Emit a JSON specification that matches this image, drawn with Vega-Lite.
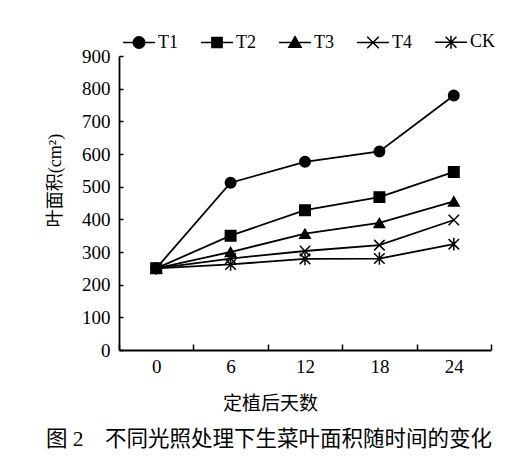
{
  "$schema": "https://vega.github.io/schema/vega-lite/v6.json",
  "width": 372,
  "height": 294,
  "autosize": "none",
  "padding": {"left": 119, "top": 56, "right": 36, "bottom": 111},
  "background": "white",
  "config": {
    "font": "Liberation Serif, Noto Sans CJK SC",
    "view": {"stroke": null},
    "axis": {
      "grid": false,
      "domainColor": "black",
      "domainWidth": 1.8,
      "tickColor": "black",
      "tickWidth": 1.5,
      "labelColor": "black",
      "titleColor": "black",
      "labelFont": "Liberation Serif, Noto Sans CJK SC",
      "titleFont": "Liberation Serif, Noto Sans CJK SC",
      "labelFontSize": 19,
      "titleFontSize": 19,
      "titleFontWeight": "normal"
    }
  },
  "title": {
    "text": "图 2　不同光照处理下生菜叶面积随时间的变化",
    "orient": "bottom",
    "anchor": "middle",
    "frame": "group",
    "dx": -36,
    "offset": 16,
    "fontSize": 21.5,
    "fontWeight": "normal",
    "color": "black",
    "font": "Liberation Serif, Noto Sans CJK SC"
  },
  "data": {
    "values": [
      {"series": "T1", "day": 0, "area": 250},
      {"series": "T1", "day": 6, "area": 512},
      {"series": "T1", "day": 12, "area": 576},
      {"series": "T1", "day": 18, "area": 608},
      {"series": "T1", "day": 24, "area": 779},
      {"series": "T2", "day": 0, "area": 250},
      {"series": "T2", "day": 6, "area": 350},
      {"series": "T2", "day": 12, "area": 428},
      {"series": "T2", "day": 18, "area": 468},
      {"series": "T2", "day": 24, "area": 545},
      {"series": "T3", "day": 0, "area": 250},
      {"series": "T3", "day": 6, "area": 300},
      {"series": "T3", "day": 12, "area": 356},
      {"series": "T3", "day": 18, "area": 389},
      {"series": "T3", "day": 24, "area": 455},
      {"series": "T4", "day": 0, "area": 250},
      {"series": "T4", "day": 6, "area": 280},
      {"series": "T4", "day": 12, "area": 303},
      {"series": "T4", "day": 18, "area": 321},
      {"series": "T4", "day": 24, "area": 398},
      {"series": "CK", "day": 0, "area": 250},
      {"series": "CK", "day": 6, "area": 262},
      {"series": "CK", "day": 12, "area": 279},
      {"series": "CK", "day": 18, "area": 280},
      {"series": "CK", "day": 24, "area": 324}
    ]
  },
  "encoding": {
    "x": {
      "field": "day",
      "type": "ordinal",
      "bandPosition": 0.5,
      "scale": {"type": "band", "paddingInner": 0, "paddingOuter": 0},
      "axis": {
        "title": "定植后天数",
        "labelAngle": 0,
        "tickBand": "extent",
        "tickSize": -6,
        "labelPadding": 13,
        "titleX": 151,
        "titleY": 53,
        "titleBaseline": "middle",
        "titleAlign": "center"
      }
    },
    "y": {
      "field": "area",
      "type": "quantitative",
      "scale": {"domain": [0, 900], "nice": false},
      "axis": {
        "title": "叶面积(cm²)",
        "values": [0, 100, 200, 300, 400, 500, 600, 700, 800, 900],
        "tickSize": -4,
        "labelPadding": 13,
        "titleX": -64,
        "titleY": 124,
        "titleAngle": 270,
        "titleBaseline": "middle",
        "titleAlign": "center",
        "titleFontSize": 18
      }
    }
  },
  "resolve": {"scale": {"shape": "independent"}, "legend": {"shape": "independent"}},
  "layer": [
    {
      "mark": {"type": "line", "color": "black", "strokeWidth": 1.8},
      "encoding": {"detail": {"field": "series", "type": "nominal"}}
    },
    {
      "mark": {"type": "point", "filled": true, "color": "black", "stroke": "black", "strokeWidth": 1.5, "opacity": 1, "size": 110},
      "encoding": {
        "shape": {
          "field": "series",
          "type": "nominal",
          "legend": null,
          "scale": {
            "domain": ["T1", "T2", "T3", "T4", "CK"],
            "range": ["circle", "square", "triangle-up", "M-1,-1L1,1M1,-1L-1,1", "M-1,-1L1,1M1,-1L-1,1M0,-1.2L0,1.2"]
          }
        }
      }
    },
    {
      "transform": [{"filter": "false"}],
      "mark": {"type": "point", "filled": true, "color": "black", "stroke": "black", "strokeWidth": 1.5, "size": 1156},
      "encoding": {
        "shape": {
          "field": "series",
          "type": "nominal",
          "scale": {
            "domain": ["T1", "T2", "T3", "T4", "CK"],
            "range": [
              "M-0.94,0L0.94,0M0.34,0A0.34,0.34,0,1,1,-0.34,0A0.34,0.34,0,1,1,0.34,0Z",
              "M-0.94,0L0.94,0M-0.3,-0.3L0.3,-0.3L0.3,0.3L-0.3,0.3Z",
              "M-0.94,0L0.94,0M0,-0.34L0.36,0.28L-0.36,0.28Z",
              "M-0.94,0L0.94,0M-0.34,-0.34L0.34,0.34M0.34,-0.34L-0.34,0.34",
              "M-0.94,0L0.94,0M-0.32,-0.32L0.32,0.32M0.32,-0.32L-0.32,0.32M0,-0.38L0,0.38"
            ]
          },
          "legend": {
            "orient": "none",
            "legendX": 2,
            "legendY": -32,
            "direction": "horizontal",
            "title": null,
            "symbolSize": 1156,
            "symbolStrokeWidth": 1.5,
            "symbolOpacity": 1,
            "labelFontSize": 18,
            "labelColor": "black",
            "labelFont": "Liberation Serif, Noto Sans CJK SC",
            "labelOffset": 1,
            "columnPadding": 20
          }
        }
      }
    }
  ]
}
